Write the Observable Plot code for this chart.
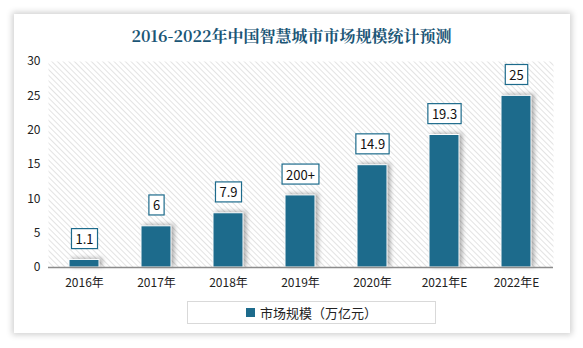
<!DOCTYPE html>
<html><head><meta charset="utf-8">
<script src="https://cdn.jsdelivr.net/npm/d3@7"></script>
<script src="https://cdn.jsdelivr.net/npm/@observablehq/plot@0.6"></script>
<style>
body{margin:0;background:#fff;width:583px;height:348px;position:relative;overflow:hidden;font-family:"Microsoft YaHei","Noto Sans CJK SC",sans-serif;}
#card{position:absolute;left:14px;top:14px;width:556px;height:319px;background:#fff;box-shadow:0 0 6px 2px rgba(0,0,0,0.18);}
#title{position:absolute;left:0;top:24px;width:583px;text-align:center;font-family:"Noto Serif CJK SC","Noto Sans CJK SC",serif;font-weight:bold;font-size:16px;color:#1b5676;line-height:24px;}
#chart{position:absolute;left:0;top:50px;}
#legend{position:absolute;left:187px;top:301px;width:249px;height:23px;border:1px solid #d9d9d9;box-sizing:border-box;display:flex;align-items:center;justify-content:center;font-size:13px;color:#222;font-family:"Noto Sans CJK SC",sans-serif;}
#legend .sw{width:9px;height:9px;background:#1d6b8c;margin-right:5px;}
</style></head>
<body>
<div id="card"></div>
<div id="title">2016-2022年中国智慧城市市场规模统计预测</div>
<div id="chart"></div>
<div id="legend"><span class="sw"></span><span>市场规模（万亿元）</span></div>
<script>
const years = ["2016年","2017年","2018年","2019年","2020年","2021年E","2022年E"];
const values = [1.1, 6, 7.9, 10.5, 14.9, 19.3, 25];
const labels = ["1.1","6","7.9","200+","14.9","19.3","25"];
const yTicks = [0,5,10,15,20,25,30];

const data = years.map((y,i)=>({year:y, value:values[i], label:labels[i]}));
const barColor = "#1d6b8c";

const plot = Plot.plot({
  width:583, height:250,
  marginLeft:48, marginRight:30, marginTop:11, marginBottom:33,
  style:{fontFamily:"'Noto Sans CJK SC',sans-serif", fontSize:"12px", color:"#222", background:"transparent"},
  x:{domain:years, paddingInner:0.583, paddingOuter:0.29, label:null, tickSize:0, tickPadding:11},
  y:{domain:[0,30], ticks:yTicks, label:null, tickSize:0, tickPadding:8},
  marks:[
    Plot.frame({fill:"url(#hatch)", stroke:"none"}),
    Plot.barY(data,{x:"year", y:"value", fill:barColor, stroke:"#fff", strokeWidth:1}),
    Plot.ruleY([0],{stroke:"#8c8c8c", strokeWidth:1.5}),
    Plot.text(data,{x:"year", y:"value", text:"label", dy:-20, fontSize:13, fill:"#111"}),
  ]
});
document.getElementById("chart").appendChild(plot);

const svg = d3.select(plot);
const defs = svg.insert("defs",":first-child");
const pat = defs.append("pattern").attr("id","hatch").attr("patternUnits","userSpaceOnUse")
  .attr("width",4).attr("height",4).attr("patternTransform","rotate(-45)");
pat.append("rect").attr("width",4).attr("height",4).attr("fill","#fff");
pat.append("line").attr("x1",0).attr("y1",0).attr("x2",0).attr("y2",4).attr("stroke","#d0d0d0").attr("stroke-width",1.2);

svg.selectAll('g[aria-label="bar"]').style("filter","drop-shadow(3px -1px 2px rgba(0,0,0,0.3))");

// boxes behind value labels
const textNodes = svg.selectAll('g[aria-label="text"] text').nodes();
textNodes.forEach(t => {
  const bb = t.getBBox();
  const w = bb.width + 8, h = 20;
  const cx = bb.x + bb.width/2, cy = bb.y + bb.height/2;
  const r = document.createElementNS("http://www.w3.org/2000/svg","rect");
  r.setAttribute("x", cx - w/2); r.setAttribute("y", cy - h/2);
  r.setAttribute("width", w); r.setAttribute("height", h);
  r.setAttribute("fill","#fff"); r.setAttribute("stroke","#1d6b8c"); r.setAttribute("stroke-width","1.2");
  const tr = t.getAttribute("transform");
  if (tr) r.setAttribute("transform", tr);
  t.parentNode.insertBefore(r, t);
});
</script>
</body></html>
